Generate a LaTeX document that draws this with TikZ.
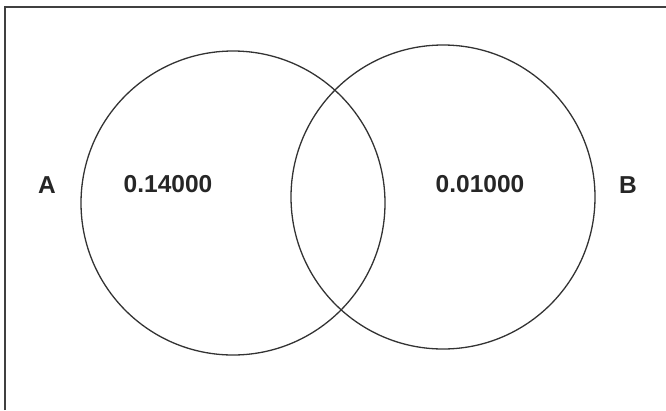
\documentclass[tikz,border=0pt]{standalone}
\usepackage{fontspec}
\setmainfont{Liberation Sans}
\begin{document}
\begin{tikzpicture}[x=1pt,y=-1pt,
  setc/.style={draw=black!80,line width=1.3pt},
  lbl/.style={font=\fontsize{24.5}{27}\selectfont\bfseries,text=black!85,inner sep=0pt}]
\useasboundingbox (0,0) rectangle (666,410);
\draw[black!75,line width=1.6pt] (5,410) -- (5,7) -- (666,7);
\node[setc,circle,minimum size=304pt,inner sep=0pt] (A) at (233,203) {};
\node[setc,circle,minimum size=304pt,inner sep=0pt] (B) at (443,197) {};
\node[lbl] (la) at (47,185) {A};
\node[lbl] (va) at (168,184) {0.14000};
\node[lbl] (vb) at (480,184) {0.01000};
\node[lbl] (lb) at (628,185) {B};
\end{tikzpicture}
\end{document}
